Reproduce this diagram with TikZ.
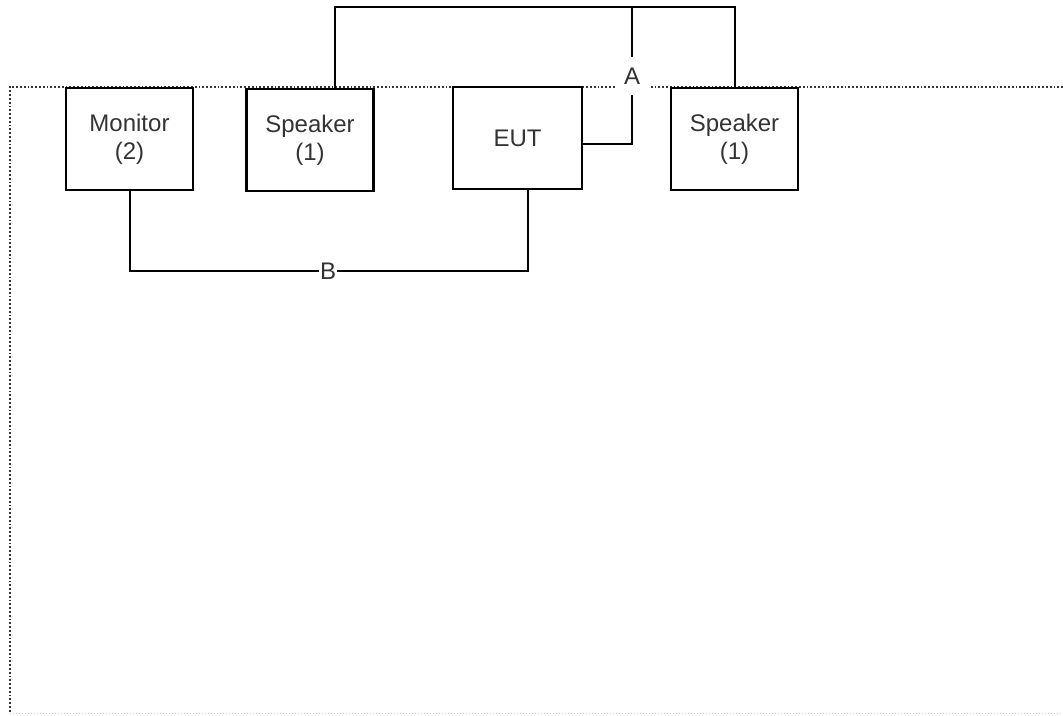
\documentclass[tikz,border=0pt]{standalone}
\usepackage{fontspec}
\setmainfont{Liberation Sans}
\begin{document}
\begin{tikzpicture}[x=1pt,y=-1pt,
  unit/.style={draw,line width=2.2pt,minimum width=127pt,minimum height=102pt,
    align=center,inner sep=0pt,text=black!80,font=\fontsize{24}{28}\selectfont},
  cable/.style={line width=2pt},
  tag/.style={fill=white,inner sep=1pt,text=black!80,font=\fontsize{24}{24}\selectfont}]
\useasboundingbox (0,0) rectangle (1063,715);
% boundary of the test area
\draw[dotted,line width=1.8pt,black!80] (1063,87) -- (10,87) -- (10,713);
\draw[dotted,line width=1pt,black!20] (10,713) -- (1063,713);
% equipment
\node[unit] (mon) at (129.5,139) {Monitor\\(2)};
\node[unit] (spkl) at (310,140) {Speaker\\(1)};
\node[unit,minimum width=129pt] (eut) at (517.5,138) {EUT};
\node[unit] (spkr) at (734.5,139) {Speaker\\(1)};
% cable A
\coordinate (ajoin) at (632,7);
\draw[cable] ([xshift=25pt]spkl.north) |- (ajoin) -| (spkr.north);
\draw[cable] ([yshift=-6pt]eut.east) -| (ajoin);
\node[tag,minimum width=35pt,minimum height=38pt] (atag) at (632,76) {A};
% cable B
\coordinate (bjoin) at (328,271);
\draw[cable] (mon.south) |- (bjoin) -| ([xshift=10pt]eut.south);
\node[tag] (btag) at (bjoin) {B};
\end{tikzpicture}
\end{document}
